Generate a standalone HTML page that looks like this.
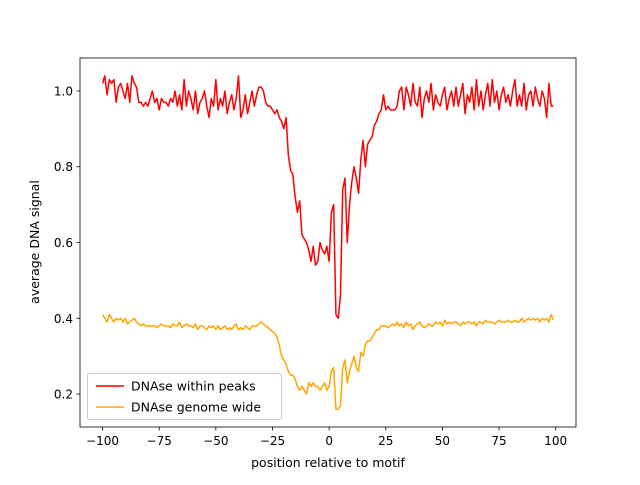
<!DOCTYPE html>
<html><head><meta charset="utf-8"><style>
body{margin:0;background:#fff}
svg text{font-family:"DejaVu Sans","Liberation Sans",sans-serif;fill:#000}
</style></head><body>
<svg id="chart" width="640" height="480" xmlns="http://www.w3.org/2000/svg">
<rect width="640" height="480" fill="#fff"/>
<g id="plot"></g>
</svg>
<script>
const xStart = -100;
const redValues = [1.02,1.04,0.99,1.03,1.02,1.03,0.97,1.01,1.02,1.0,0.98,1.02,0.97,1.04,1.02,1.01,0.97,0.97,0.96,0.97,0.96,0.98,1.0,0.97,0.98,0.95,0.98,0.97,0.97,0.96,0.98,0.97,1.0,0.96,0.99,0.95,1.03,0.96,1.0,0.98,0.95,1.0,0.94,0.97,0.98,1.0,0.96,0.93,0.98,0.96,1.03,0.95,0.98,0.96,1.0,0.94,0.97,0.99,0.95,0.98,1.04,0.93,0.95,0.99,0.94,0.97,1.0,0.96,0.99,1.01,1.01,1.0,0.97,0.96,
0.96,0.95,0.94,0.95,0.93,0.92,0.90,0.93,0.83,0.79,0.78,0.72,0.68,0.71,0.62,0.61,0.60,0.58,0.55,0.59,0.54,0.55,0.60,0.58,0.57,0.59,0.55,
0.68,0.70,0.41,0.40,0.46,0.74,0.77,0.60,0.70,0.76,0.80,0.77,0.73,0.82,0.87,0.80,0.86,0.87,0.88,0.91,0.92,0.94,0.95,0.99,0.95,0.96,0.95,0.95,0.95,0.96,1.0,1.01,0.95,1.01,0.99,0.96,1.02,0.97,0.96,1.01,0.93,0.98,1.0,0.97,1.02,0.95,0.99,0.97,0.96,0.99,1.01,0.95,0.98,1.0,0.96,1.01,0.96,0.99,1.02,0.94,0.99,0.97,1.01,0.95,1.03,0.96,1.0,0.95,0.99,1.02,0.96,1.03,0.97,1.0,0.95,0.99,1.01,0.97,0.99,0.96,1.0,1.03,0.96,0.99,0.96,1.02,0.95,0.99,1.0,0.96,1.01,0.98,0.96,1.0,0.98,0.93,1.02,0.96,0.96];
const orangeValues = [0.41,0.40,0.39,0.41,0.40,0.39,0.40,0.395,0.40,0.39,0.40,0.385,0.39,0.395,0.40,0.39,0.385,0.38,0.385,0.38,0.38,0.38,0.38,0.38,0.375,0.38,0.385,0.38,0.38,0.38,0.375,0.385,0.38,0.38,0.39,0.375,0.38,0.385,0.38,0.38,0.375,0.385,0.37,0.38,0.38,0.375,0.37,0.38,0.375,0.38,0.37,0.38,0.37,0.375,0.38,0.37,0.375,0.37,0.38,0.385,0.37,0.375,0.37,0.38,0.375,0.37,0.38,0.38,0.38,0.385,0.39,0.385,0.38,0.375,
0.37,0.365,0.36,0.35,0.33,0.30,0.29,0.28,0.26,0.25,0.25,0.24,0.22,0.21,0.22,0.21,0.20,0.23,0.22,0.23,0.22,0.22,0.21,0.22,0.23,0.21,0.22,
0.26,0.27,0.16,0.16,0.17,0.27,0.29,0.23,0.26,0.28,0.30,0.27,0.26,0.31,0.30,0.33,0.34,0.34,0.35,0.36,0.37,0.37,0.38,0.38,0.38,0.375,0.38,0.385,0.38,0.39,0.38,0.385,0.375,0.39,0.38,0.385,0.37,0.38,0.385,0.39,0.38,0.375,0.38,0.385,0.38,0.38,0.39,0.385,0.39,0.38,0.395,0.385,0.39,0.385,0.39,0.39,0.385,0.38,0.39,0.385,0.39,0.39,0.385,0.39,0.38,0.39,0.39,0.385,0.395,0.39,0.39,0.39,0.385,0.39,0.395,0.39,0.39,0.39,0.395,0.39,0.39,0.395,0.39,0.39,0.40,0.39,0.395,0.40,0.395,0.40,0.395,0.40,0.39,0.40,0.395,0.40,0.39,0.41,0.395];
const xTicks = [-100,-75,-50,-25,0,25,50,75,100];
const yTicks = [0.2,0.4,0.6,0.8,1.0];
const yTickLabels = ["0.2","0.4","0.6","0.8","1.0"];

const L=80,R=576,T=58,B=427;
const xmin=-109.95,xmax=108.95,ymin=0.113,ymax=1.087;
const X=v=>L+(v-xmin)/(xmax-xmin)*(R-L);
const Y=v=>B-(v-ymin)/(ymax-ymin)*(B-T);
const NS="http://www.w3.org/2000/svg";
const g=document.getElementById('plot');
function mk(tag,attrs,parent){const e=document.createElementNS(NS,tag);for(const k in attrs)e.setAttribute(k,attrs[k]);(parent||g).appendChild(e);return e;}

function line(vals,color,name){
  const pts=vals.map((v,i)=>X(xStart+i).toFixed(2)+','+Y(v).toFixed(2)).join(' ');
  const p=mk('polyline',{points:pts,fill:'none',stroke:color,'stroke-width':1.5,'stroke-linejoin':'round'});
  
  
}
line(redValues,'#ff0000','series-within-peaks');
line(orangeValues,'#ffa500','series-genome-wide');

const frame=mk('rect',{x:L,y:T,width:R-L,height:B-T,fill:'none',stroke:'#000','stroke-width':0.8});



xTicks.forEach(t=>{
  const x=X(t);
  const tk=mk('line',{x1:x,x2:x,y1:B,y2:B+3.5,stroke:'#000','stroke-width':0.8});
  
  
  const tx=mk('text',{x:x,y:B+18,'text-anchor':'middle','font-size':12});
  tx.textContent=String(t).replace('-','\u2212');
  
  
});
yTicks.forEach((t,i)=>{
  const y=Y(t);
  const tk=mk('line',{x1:L-3.5,x2:L,y1:y,y2:y,stroke:'#000','stroke-width':0.8});
  
  
  const tx=mk('text',{x:L-7,y:y+4.5,'text-anchor':'end','font-size':12});
  tx.textContent=yTickLabels[i];
  
  
});
const xt=mk('text',{x:(L+R)/2,y:467,'text-anchor':'middle','font-size':12.5});
xt.textContent='position relative to motif';


const yt=mk('text',{x:0,y:0,'text-anchor':'middle','font-size':12.5,transform:'translate(39,242) rotate(-90)'});
yt.textContent='average DNA signal';



const lg=mk('g',{});


mk('rect',{x:87.5,y:373.5,width:194,height:46,rx:2,fill:'#fff','fill-opacity':0.8,stroke:'#ccc'},lg);
[['DNAse within peaks','#ff0000',386],['DNAse genome wide','#ffa500',407]].forEach(([t,c,y])=>{
  const e=mk('g',{},lg);
  
  
  mk('line',{x1:96,x2:124,y1:y,y2:y,stroke:c,'stroke-width':1.5},e);
  const tx=mk('text',{x:131,y:y+4.5,'font-size':12.5},e);
  tx.textContent=t;
});
</script>
</body></html>
